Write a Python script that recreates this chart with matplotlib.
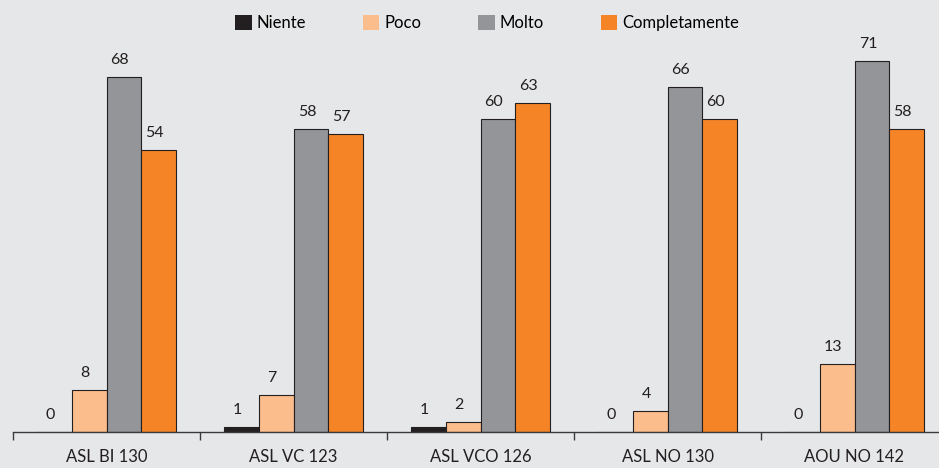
import matplotlib
matplotlib.use("Agg")
import matplotlib.pyplot as plt
import numpy as np
from matplotlib.patches import Patch

categories = ["ASL BI 130", "ASL VC 123", "ASL VCO 126", "ASL NO 130", "AOU NO 142"]
series_names = ["Niente", "Poco", "Molto", "Completamente"]
niente = [0, 1, 1, 0, 0]
poco = [8, 7, 2, 4, 13]
molto = [68, 58, 60, 66, 71]
completamente = [54, 57, 63, 60, 58]

colors = ["#231f20", "#fbbd8b", "#939598", "#f58426"]
bg = "#e6e7e8"
edge = "#231f20"

plt.rcParams["font.family"] = ["Lato", "DejaVu Sans"]

fig = plt.figure(figsize=(9.39, 4.68), dpi=100, facecolor=bg)
ax = fig.add_axes([13 / 939, 36 / 468, 935 / 939, 432 / 468], facecolor=bg)

x = np.arange(len(categories))
w = 0.186
series = [niente, poco, molto, completamente]
for i, (vals, col) in enumerate(zip(series, colors)):
    pos = x + (i - 1.5) * w
    ax.bar(pos, vals, width=w, color=col, edgecolor=edge, linewidth=0.8, zorder=2)
    for xp, v in zip(pos, vals):
        ax.annotate(str(v), (xp, v), xytext=(-4, 17), textcoords="offset pixels",
                    ha="center", va="center", fontsize=11.5, color="#231f20")

ax.set_xlim(-0.5, 4.5)
ax.set_ylim(0, 82.7)

for s in ["top", "right", "left"]:
    ax.spines[s].set_visible(False)
ax.spines["bottom"].set_color("#3a3a3a")
ax.spines["bottom"].set_linewidth(1.0)
ax.set_yticks([])

ax.set_xticks(x)
ax.set_xticklabels(categories, fontsize=12, color="#231f20")
ax.tick_params(axis="x", which="major", length=0, pad=12)
ax.set_xticks(np.arange(-0.5, 5.0, 1.0), minor=True)
ax.tick_params(axis="x", which="minor", length=6, width=1.0, color="#3a3a3a", direction="out")

handles = [Patch(facecolor=c, edgecolor="none") for c in colors]
fig.legend(handles, series_names, loc="center", bbox_to_anchor=(487 / 939, 1 - 23 / 468),
           ncol=4, frameon=False, fontsize=12, handlelength=1.0, handleheight=1.0,
           handletextpad=0.3, columnspacing=3.4)

fig.savefig("out.png", dpi=100, facecolor=bg)
